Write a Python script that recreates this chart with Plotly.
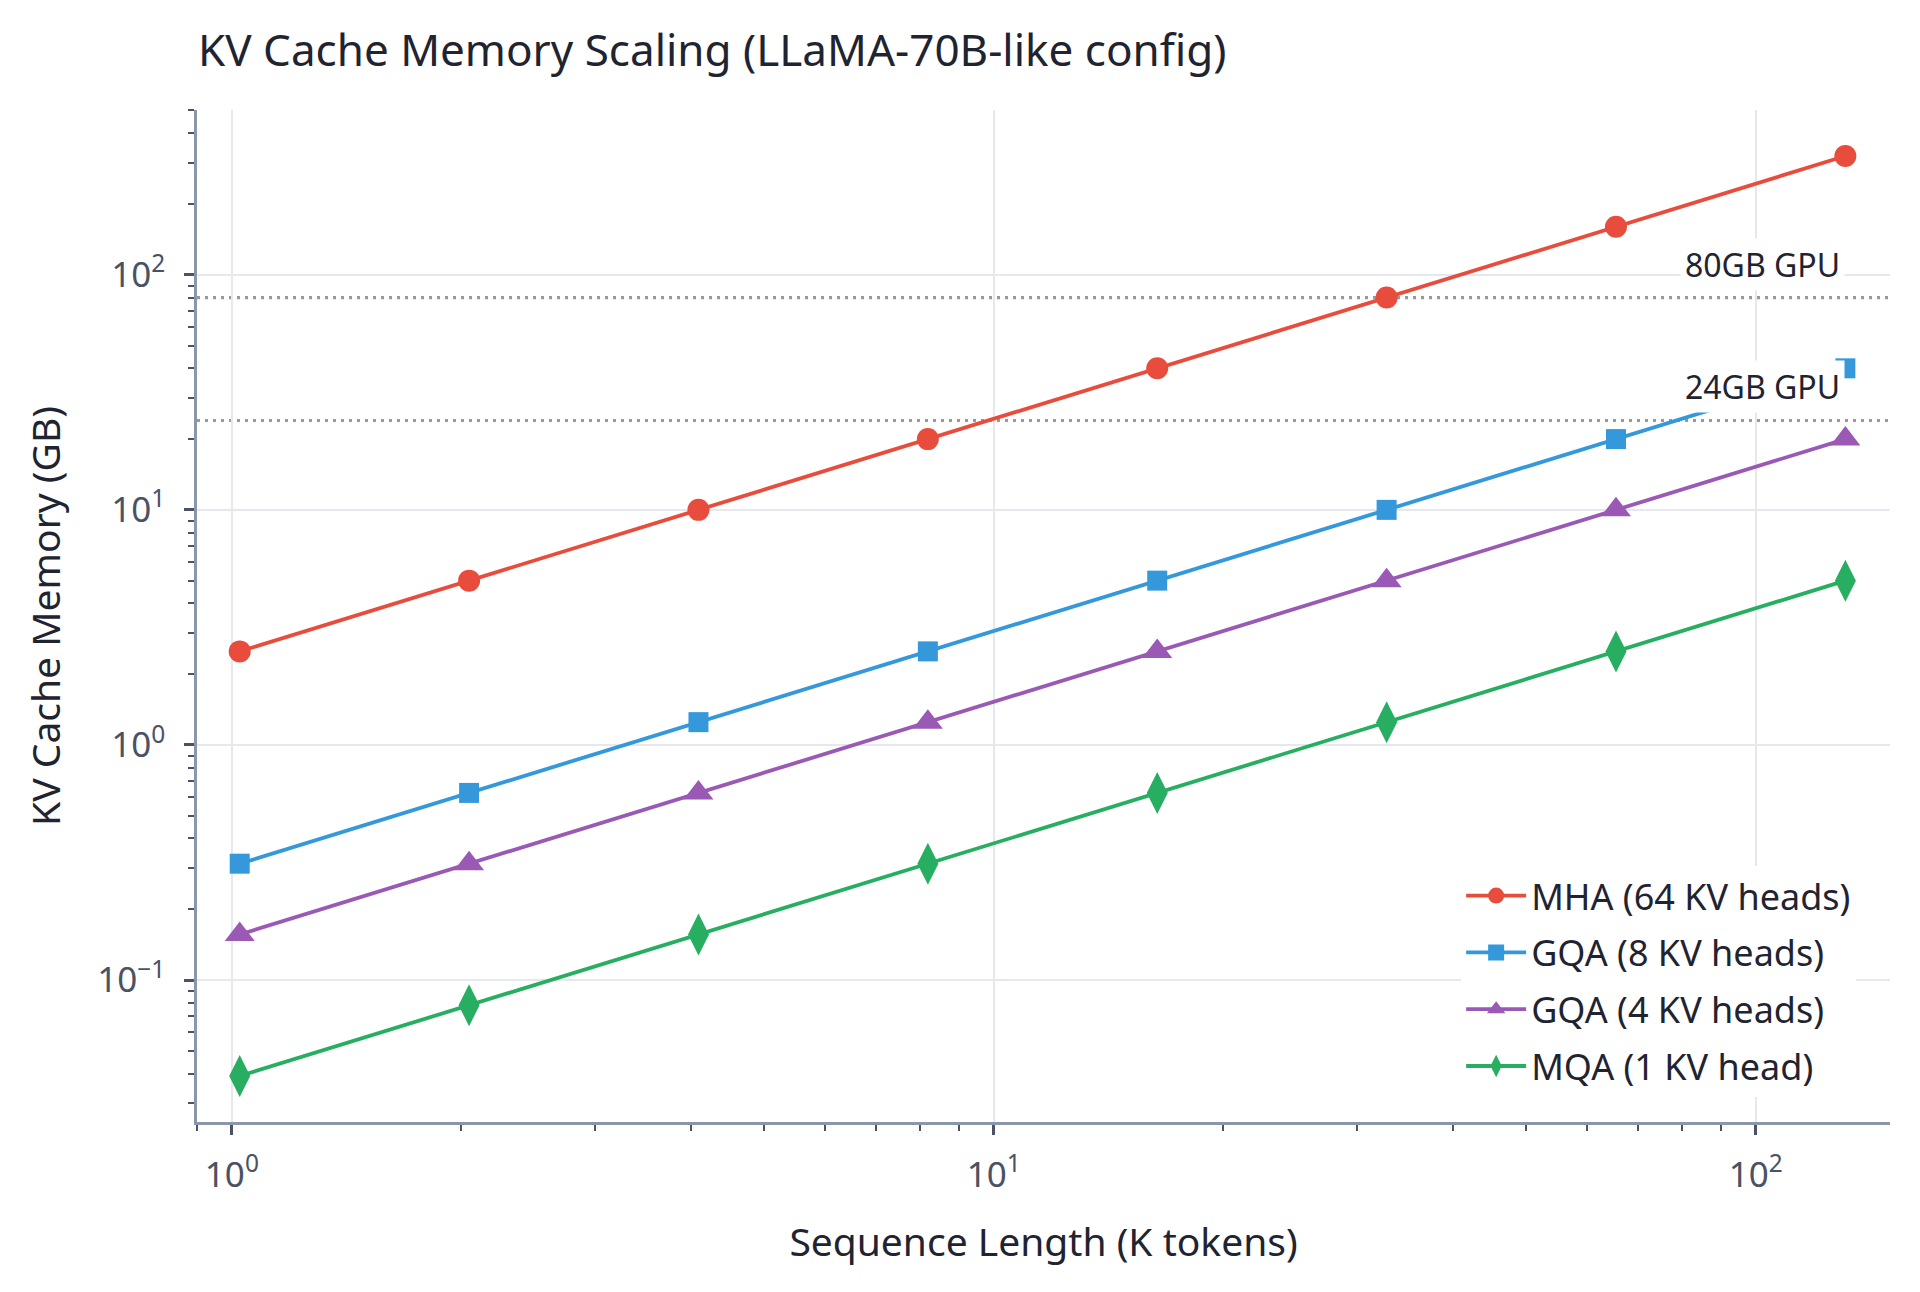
import math
import plotly.graph_objects as go

# sequence lengths in K tokens (1024 .. 131072 tokens)
seq_len_k = [1.024, 2.048, 4.096, 8.192, 16.384, 32.768, 65.536, 131.072]

mha_gb = [2.5, 5, 10, 20, 40, 80, 160, 320]
gqa8_gb = [0.3125, 0.625, 1.25, 2.5, 5, 10, 20, 40]
gqa4_gb = [0.15625, 0.3125, 0.625, 1.25, 2.5, 5, 10, 20]
mqa_gb = [0.0390625, 0.078125, 0.15625, 0.3125, 0.625, 1.25, 2.5, 5]

series_names = ["MHA (64 KV heads)", "GQA (8 KV heads)", "GQA (4 KV heads)", "MQA (1 KV head)"]
gpu_limits = [80, 24]
gpu_labels = ["80GB GPU", "24GB GPU"]

x_major = [1, 10, 100]
x_major_text = ["10<sup>0</sup>", "10<sup>1</sup>", "10<sup>2</sup>"]
y_major = [0.1, 1, 10, 100]
y_major_text = ["10<sup>\u22121</sup>", "10<sup>0</sup>", "10<sup>1</sup>", "10<sup>2</sup>"]

FONT = "Noto Sans"
TEXT = "#1f2430"
TICK = "#4a5263"
colors = ["#e74c3c", "#3498db", "#9b59b6", "#27ae60"]
symbols = ["circle", "square", "triangle-up", "diamond-tall"]
sizes = [22, 20, 26, 30]

# page body has an 8px margin, so the figure is shifted by 8px
W, H = 1912, 1284
ML, MR, MT, MB = 189, 30, 102, 170


def minor_ticks(lo, hi):
    vals = []
    for e in range(lo, hi + 1):
        for m in range(2, 10):
            vals.append(m * 10 ** e)
    return vals


fig = go.Figure()

for name, ys, c, sym, sz in zip(series_names, [mha_gb, gqa8_gb, gqa4_gb, mqa_gb], colors, symbols, sizes):
    fig.add_trace(go.Scatter(
        x=seq_len_k, y=ys, name=name, legendgroup=name, mode="lines+markers",
        line=dict(color=c, width=3.8),
        marker=dict(symbol=sym, size=sz, color=c, line=dict(width=0)),
    ))

for lim, label in zip(gpu_limits, gpu_labels):
    fig.add_hline(y=lim, line=dict(color="#999999", width=3.2, dash="3px,5px"), layer="below")
    fig.add_annotation(
        x=math.log10(seq_len_k[-1]), y=math.log10(lim), xref="x", yref="y",
        text=label, showarrow=False, xanchor="right", yanchor="bottom",
        xshift=0, yshift=7, bgcolor="white", borderpad=4,
        font=dict(family=FONT, size=32, color=TEXT),
    )

axis_common = dict(
    type="log",
    showline=True, linecolor="#8a96aa", linewidth=2.5,
    ticks="outside", ticklen=10, tickwidth=2.5, tickcolor=TICK,
    showgrid=True, gridcolor="#e6e8ee", gridwidth=2,
    zeroline=False, mirror=False,
    tickfont=dict(family=FONT, size=35, color=TICK),
    tickmode="array",
)

fig.update_xaxes(
    **axis_common,
    range=[math.log10(0.9), math.log10(150)],
    tickvals=x_major, ticktext=x_major_text,
    ticklabelstandoff=10,
    minor=dict(tickmode="array", tickvals=minor_ticks(-1, 2), ticks="outside",
               ticklen=6, tickwidth=2, tickcolor=TICK, showgrid=False),
    title=dict(text="Sequence Length (K tokens)", standoff=33,
               font=dict(family=FONT, size=39, color=TEXT)),
)
fig.update_yaxes(
    **axis_common,
    range=[-1.604, 2.701],
    tickvals=y_major, ticktext=y_major_text,
    ticklabelstandoff=12,
    minor=dict(tickmode="array", tickvals=minor_ticks(-2, 2), ticks="outside",
               ticklen=6, tickwidth=2, tickcolor=TICK, showgrid=False),
    title=dict(text="KV Cache Memory (GB)", standoff=25,
               font=dict(family=FONT, size=39, color=TEXT)),
)

fig.update_layout(
    width=W, height=H,
    paper_bgcolor="white", plot_bgcolor="white",
    margin=dict(l=ML, r=MR, t=MT, b=MB),
    title=dict(text="KV Cache Memory Scaling (LLaMA-70B-like config)",
               x=190 / W, xanchor="left", y=1 - 43 / H, yanchor="middle",
               font=dict(family=FONT, size=44, color=TEXT)),
    showlegend=True,
    legend=dict(x=0.980, xanchor="right", y=0.025, yanchor="bottom",
                bgcolor="white", borderwidth=0,
                font=dict(family=FONT, size=36, color=TEXT),
                itemwidth=60, tracegroupgap=7),
    font=dict(family=FONT),
)

fig.write_html("out.html")
